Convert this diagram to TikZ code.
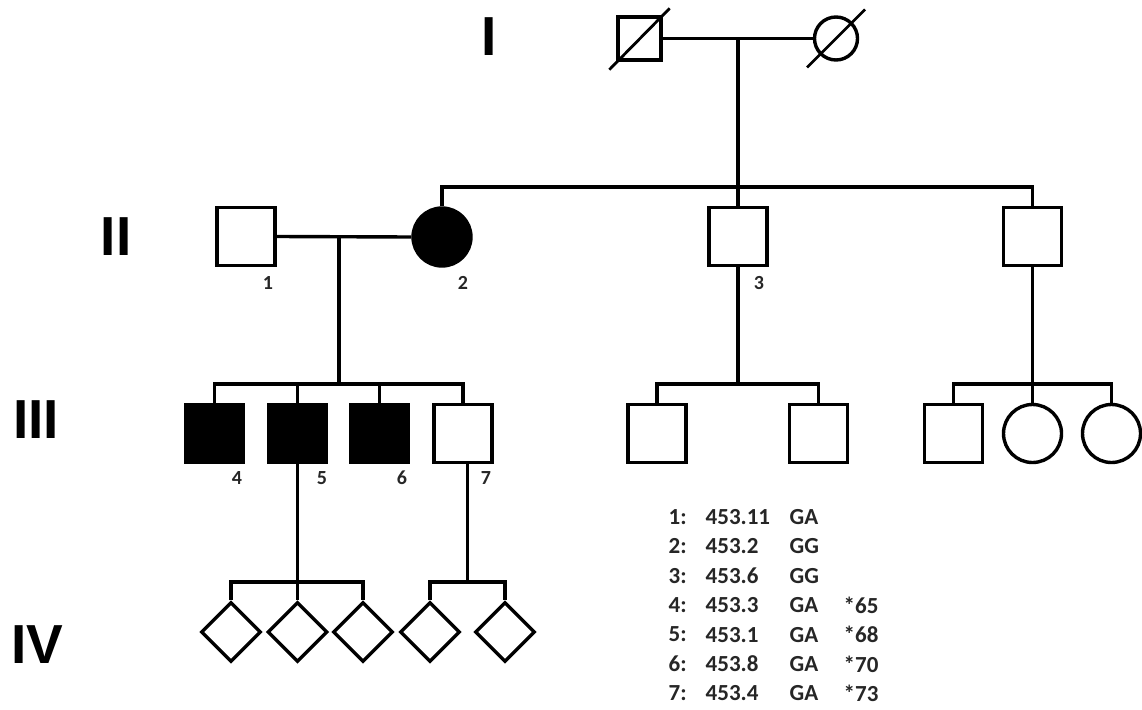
\documentclass[tikz,border=0pt]{standalone}
\usepackage{fontspec}
\usetikzlibrary{shapes.geometric}
\newfontfamily\labfont{Carlito}
\newfontfamily\romfont{Liberation Sans}
\begin{document}
\begin{tikzpicture}[x=1pt,y=-1pt,line width=3.4pt,
  male/.style={draw,rectangle,minimum size=58pt,inner sep=0pt,line width=3.4pt},
  female/.style={draw,circle,minimum size=58pt,inner sep=0pt,line width=3.4pt},
  unk/.style={draw,diamond,aspect=1,minimum size=60pt,inner sep=0pt,line width=3.4pt},
  aff/.style={fill=black},
  gen/.style={font=\romfont\bfseries\fontsize{55}{55}\selectfont,inner sep=0pt},
  idlab/.style={font=\labfont\bfseries\fontsize{20}{20}\selectfont,inner sep=0pt,text=black!85},
  tab/.style={font=\labfont\bfseries\fontsize{23}{23}\selectfont,inner sep=0pt,anchor=west,text=black!85}]
\useasboundingbox[fill=white] (0,0) rectangle (1142,709);

% generation labels
\node[gen] (gI) at (489,37) {I};
\node[gen] (gII) at (116,237) {II};
\node[gen] (gIII) at (36,420) {III};
\node[gen] (gIV) at (37,645) {IV};

% generation I
\node[male,minimum size=43pt] (I1) at (639.5,38.5) {};
\node[female,minimum size=43pt] (I2) at (836,38.5) {};
\draw[line width=2.8pt] ([shift={(-7,8)}]I1.south west) -- ([shift={(7,-7)}]I1.north east);
\draw[line width=2.8pt] ([shift={(-29,29)}]I2.center) -- ([shift={(29,-29)}]I2.center);
\coordinate (m1) at (738,39);
\draw (I1.east) -- (I2.west);

% generation II
\node[male] (II1) at (246,236.5) {};
\node[female,aff] (II2) at (442,237) {};
\node[male] (II3) at (738,236.5) {};
\node[male] (II4) at (1032.5,236.5) {};
\coordinate (s2) at (738,187);
\draw (m1) -- (s2);
\draw (II2.north) |- (s2) -| (II4.north);
\draw (s2) -- (II3.north);
\coordinate (m2) at (339,237);
\draw (II1.east) -- (II2.west);
\node[idlab] (l1) at (268,283) {1};
\node[idlab] (l2) at (463,283) {2};
\node[idlab] (l3) at (759,283) {3};

% generation III
\node[male,aff] (III1) at (214.5,433.5) {};
\node[male,aff] (III2) at (297.5,433.5) {};
\node[male,aff] (III3) at (379.5,433.5) {};
\node[male] (III4) at (463,433.5) {};
\node[male] (III5) at (657,433.5) {};
\node[male] (III6) at (818.5,433.5) {};
\node[male] (III7) at (953.5,433.5) {};
\node[female] (III8) at (1032.5,433.5) {};
\node[female] (III9) at (1111.5,433.5) {};
\coordinate (s3a) at (339,384);
\coordinate (s3b) at (738,384);
\coordinate (s3c) at (1032.5,384);
\draw (m2) -- (s3a);
\draw (III1.north) |- (s3a) -| (III4.north);
\draw (III2.north) |- (s3a);
\draw (III3.north) |- (s3a);
\draw (II3.south) -- (s3b);
\draw (III5.north) |- (s3b) -| (III6.north);
\draw (II4.south) -- (s3c);
\draw (III7.north) |- (s3c) -| (III9.north);
\draw (III8.north) -- (s3c);
\node[idlab] (l4) at (237,478) {4};
\node[idlab] (l5) at (322,478) {5};
\node[idlab] (l6) at (402,478) {6};
\node[idlab] (l7) at (486,478) {7};

% generation IV
\node[unk] (IV1) at (231,632) {};
\node[unk] (IV2) at (297.5,632) {};
\node[unk] (IV3) at (363,632) {};
\node[unk] (IV4) at (430,632) {};
\node[unk] (IV5) at (505,632) {};
\coordinate (s4a) at (297.5,582);
\coordinate (s4b) at (467.5,582);
\draw (III2.south) -- (s4a);
\draw (IV1.north) |- (s4a) -| (IV3.north);
\draw (IV2.north) -- (s4a);
\draw (s4b |- III4.south) -- (s4b);
\draw (IV4.north) |- (s4b) -| (IV5.north);

% table
\foreach \n/\v/\g [count=\k] in {1/453.11/GA,2/453.2/GG,3/453.6/GG,4/453.3/GA,5/453.1/GA,6/453.8/GA,7/453.4/GA}{
  \node[tab] (tn\k) at (667,{517+(\k-1)*29.4}) {\n:};
  \node[tab] (tv\k) at (704,{517+(\k-1)*29.4}) {\v};
  \node[tab] (tg\k) at (788,{517+(\k-1)*29.4}) {\g};
}
\node[tab] (ts4) at (842,{517+3*29.4}) {*65};
\node[tab] (ts5) at (842,{517+4*29.4}) {*68};
\node[tab] (ts6) at (842,{517+5*29.4}) {*70};
\node[tab] (ts7) at (842,{517+6*29.4}) {*73};
\end{tikzpicture}
\end{document}
